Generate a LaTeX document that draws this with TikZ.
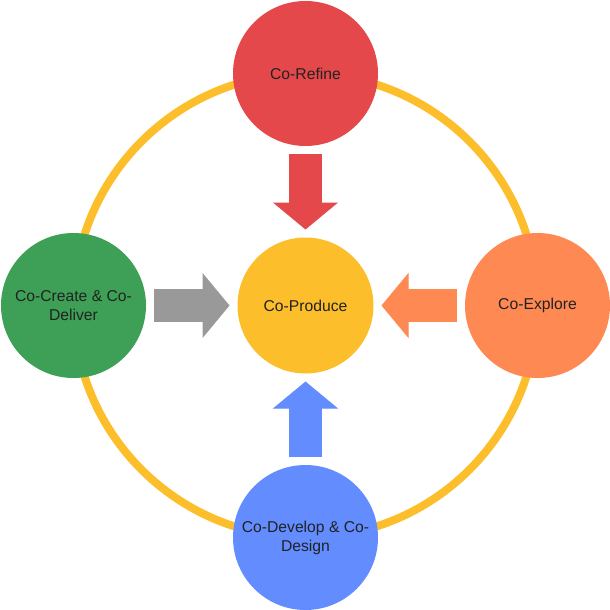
\documentclass[tikz,border=0pt]{standalone}
\usepackage{fontspec}
\setmainfont{Liberation Sans}
\usepackage{xcolor}
\usetikzlibrary{arrows.meta}
\definecolor{ringyellow}{RGB}{253, 190, 44}
\definecolor{refinered}{RGB}{229, 72, 74}
\definecolor{creategreen}{RGB}{62, 160, 86}
\definecolor{exploreorange}{RGB}{255, 137, 82}
\definecolor{developblue}{RGB}{99, 140, 255}
\definecolor{arrowgray}{RGB}{153, 153, 153}
\definecolor{labelgray}{RGB}{34, 34, 34}

\begin{document}
\begin{tikzpicture}[x=1pt, y=-1pt,
    phase/.style={circle, inner sep=0pt, outer sep=0pt, minimum size=145pt,
      align=center, text=labelgray, font=\fontsize{15.7}{19}\selectfont},
    blockarrow/.style={line width=33pt, shorten <=8pt, shorten >=8pt,
      -{Triangle[length=27pt, width=65pt, line width=1pt]}}]
  \useasboundingbox (0,0) rectangle (610,610);

  % ── Outer ring ─────────────────────────────────────────────────
  \draw[ringyellow, line width=8pt] (305.5,305.5) circle (232);

  % ── Phase circles ──────────────────────────────────────────────
  \node[phase, fill=refinered] (refine) at (305.5,73.5) {Co-Refine};
  \node[phase, fill=creategreen] (create) at (73.5,305.5) {Co-Create \& Co-\\Deliver};
  \node[phase, fill=exploreorange] (explore) at (537.5,305.5) {Co-Explore};
  \node[phase, fill=developblue] (develop) at (305.5,537.5) {Co-Develop \& Co-\\Design};

  % ── Centre ─────────────────────────────────────────────────────
  \node[phase, fill=ringyellow, minimum size=136pt] (produce) at (305.5,305.5) {Co-Produce};

  % ── Block arrows into the centre ───────────────────────────────
  \draw[blockarrow, refinered] (refine) -- (produce);
  \draw[blockarrow, arrowgray] (create) -- (produce);
  \draw[blockarrow, exploreorange] (explore) -- (produce);
  \draw[blockarrow, developblue] (develop) -- (produce);
\end{tikzpicture}
\end{document}
